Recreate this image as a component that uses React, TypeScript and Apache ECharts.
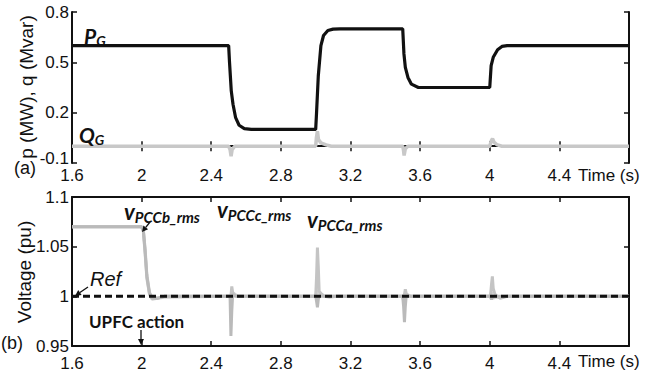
import React, { useEffect, useRef } from "react";
import * as echarts from "echarts";

// ---- Data ----
const xTicks = [1.6, 2, 2.4, 2.8, 3.2, 3.6, 4, 4.4, 4.8];

const pTime = [1.6, 2.5, 2.505, 2.515, 2.525, 2.54, 2.56, 2.59, 2.63, 3.0, 3.005, 3.015, 3.03, 3.045, 3.07, 3.1, 3.14, 3.5, 3.507, 3.515, 3.53, 3.55, 3.59, 4.0, 4.008, 4.02, 4.045, 4.07, 4.1, 4.8];
const pValue = [0.6, 0.6, 0.5, 0.33, 0.25, 0.17, 0.125, 0.105, 0.1, 0.1, 0.2, 0.42, 0.6, 0.66, 0.69, 0.698, 0.7, 0.7, 0.55, 0.47, 0.41, 0.37, 0.35, 0.35, 0.48, 0.53, 0.575, 0.595, 0.6, 0.6];

const qTime = [1.6, 2.5, 2.508, 2.514, 2.52, 2.535, 3.0, 3.004, 3.01, 3.016, 3.03, 3.06, 3.09, 3.5, 3.504, 3.508, 3.515, 3.53, 4.0, 4.008, 4.016, 4.024, 4.04, 4.07, 4.8];
const qValue = [0, 0, -0.02, -0.06, -0.02, 0, 0, 0.05, 0.09, 0.04, 0.02, 0.008, 0, 0, -0.02, -0.055, -0.015, 0, 0, 0.03, 0.045, 0.025, 0.01, 0, 0];

const vTime = [1.6, 2.0, 2.01, 2.02, 2.03, 2.045, 2.06, 2.09, 2.13, 2.5, 2.508, 2.513, 2.518, 2.523, 2.53, 2.545, 2.56, 3.0, 3.005, 3.01, 3.015, 3.02, 3.03, 3.05, 3.08, 3.12, 3.5, 3.505, 3.51, 3.515, 3.52, 3.53, 3.55, 4.0, 4.005, 4.01, 4.015, 4.02, 4.03, 4.06, 4.1, 4.8];
const vPCCa = [1.07, 1.07, 1.067, 1.048, 1.022, 1.004, 0.999, 0.998, 1.0, 1.0, 1.0, 1.0, 1.01, 1.004, 1.002, 1.0, 1.0, 1.0, 1.02, 1.049, 1.03, 1.005, 1.003, 1.0, 1.0, 1.0, 1.0, 1.0, 1.002, 1.007, 1.003, 1.001, 1.0, 1.0, 1.002, 1.012, 1.02, 1.008, 1.002, 0.998, 1.0, 1.0];
const vPCCb = [1.07, 1.07, 1.066, 1.045, 1.02, 1.003, 0.998, 0.998, 1.0, 1.0, 1.0, 0.96, 0.985, 1.002, 1.001, 1.0, 1.0, 1.0, 0.995, 0.989, 0.997, 1.0, 1.0, 1.0, 1.0, 1.0, 1.0, 0.99, 0.974, 0.99, 1.0, 1.0, 1.0, 1.0, 0.999, 0.997, 0.999, 1.0, 1.0, 1.0, 1.0, 1.0];
const vPCCc = [1.07, 1.07, 1.065, 1.043, 1.018, 1.002, 0.997, 0.998, 0.999, 1.0, 1.0, 0.995, 1.004, 1.002, 1.003, 1.001, 1.0, 1.0, 1.006, 1.004, 0.999, 1.003, 1.002, 1.0, 0.999, 1.0, 1.0, 0.996, 0.998, 1.003, 1.002, 1.001, 1.0, 1.0, 1.0, 1.004, 0.999, 0.998, 0.999, 0.999, 1.0, 1.0];

const refTime = [1.6, 4.8];
const refValue = [1, 1];

const zip = (t: number[], v: number[]) => t.map((x, i) => [x, v[i]]);

const FONT = "'Liberation Sans', Arial, sans-serif";
const LFONT = "Lato, 'Open Sans', sans-serif";

export default function App() {
  const ref = useRef<HTMLDivElement>(null);

  useEffect(() => {
    if (!ref.current) return;
    const chart = echarts.init(ref.current, undefined, { renderer: "svg" });

    const axisLine = { show: true, lineStyle: { color: "#111", width: 2 } };
    const tick = { show: true, inside: true, length: 5, lineStyle: { color: "#111", width: 1.5 } };
    const xFmt = (v: number) => (Math.abs(v - 4.8) < 1e-6 ? "" : String(parseFloat(v.toFixed(1))));

    const mkX = (gridIndex: number, margin: number) => [
      {
        type: "value", gridIndex, min: xTicks[0], max: xTicks[xTicks.length - 1], interval: 0.4,
        position: "bottom", axisLine, axisTick: tick, splitLine: { show: false },
        axisLabel: { show: true, color: "#111", fontSize: 17, fontFamily: FONT, margin, formatter: xFmt },
      },
      {
        type: "value", gridIndex, min: xTicks[0], max: xTicks[xTicks.length - 1], interval: 0.4,
        position: "top", axisLine, axisTick: tick, splitLine: { show: false }, axisLabel: { show: false },
      },
    ];
    const mkY = (gridIndex: number, min: number, max: number, interval: number, digits: number, liftMin: boolean) => [
      {
        type: "value", gridIndex, min, max, interval, position: "left",
        axisLine, axisTick: tick, splitLine: { show: false },
        axisLabel: {
          show: true, color: "#111", fontSize: 17, fontFamily: FONT, margin: 3,
          formatter: (v: number) => {
            const s = String(parseFloat(v.toFixed(digits)));
            return liftMin && Math.abs(v - min) < 1e-9 ? `{lo|${s}}` : s;
          },
          rich: { lo: { fontSize: 17, fontFamily: FONT, color: "#111", padding: [0, 0, 10, 0] } },
        },
      },
      {
        type: "value", gridIndex, min, max, interval, position: "right",
        axisLine, axisTick: tick, splitLine: { show: false }, axisLabel: { show: false },
      },
    ];

    const lineBase = { type: "line", showSymbol: false, symbol: "none", smooth: false };

    const subRich = (big: number, small: number) => ({
      m: { fontSize: big, fontWeight: "bold", fontStyle: "italic", fontFamily: LFONT, fill: "#111", lineHeight: big + 4 },
      s: { fontSize: small, fontWeight: "bold", fontStyle: "italic", fontFamily: LFONT, fill: "#111", lineHeight: small, verticalAlign: "bottom" },
    });

    const label = (x: number, y: number, main: string, sub: string, big = 21, small = 14) => ({
      type: "text", x, y,
      style: { text: `{m|${main}}{s|${sub}}`, rich: subRich(big, small), align: "left", verticalAlign: "middle" },
      z: 100,
    });

    const plain = (x: number, y: number, text: string, size: number, extra: any = {}) => ({
      type: "text", x, y,
      style: { text, fontSize: size, fontFamily: FONT, fill: "#111", align: "left", verticalAlign: "middle", ...extra },
      z: 100,
    });

    const arrow = (x1: number, y1: number, x2: number, y2: number) => {
      const ang = Math.atan2(y2 - y1, x2 - x1);
      const hl = 6, hw = 3;
      const bx = x2 - hl * Math.cos(ang), by = y2 - hl * Math.sin(ang);
      const px = -Math.sin(ang) * hw, py = Math.cos(ang) * hw;
      return [
        { type: "line", shape: { x1, y1, x2: bx, y2: by }, style: { stroke: "#111", lineWidth: 1.3 }, z: 100 },
        { type: "polygon", shape: { points: [[x2, y2], [bx + px, by + py], [bx - px, by - py]] }, style: { fill: "#111" }, z: 100 },
      ];
    };

    const option: any = {
      animation: false,
      backgroundColor: "#fff",
      grid: [
        { left: 72, top: 12, width: 557, height: 151, containLabel: false },
        { left: 72, top: 197, width: 557, height: 149, containLabel: false },
      ],
      xAxis: [...mkX(0, 4), ...mkX(1, 9)],
      yAxis: [...mkY(0, -0.1, 0.8, 0.3, 1, true), ...mkY(1, 0.95, 1.1, 0.05, 2, false)],
      series: [
        { ...lineBase, name: "QG", xAxisIndex: 0, yAxisIndex: 0, data: zip(qTime, qValue), lineStyle: { color: "#c8c8c8", width: 3.5 }, z: 2 },
        { ...lineBase, name: "PG", xAxisIndex: 0, yAxisIndex: 0, data: zip(pTime, pValue), lineStyle: { color: "#111", width: 3.2 }, z: 3 },
        { ...lineBase, name: "vPCCc_rms", xAxisIndex: 2, yAxisIndex: 2, data: zip(vTime, vPCCc), lineStyle: { color: "#d2d2d2", width: 3 }, z: 2 },
        { ...lineBase, name: "vPCCa_rms", xAxisIndex: 2, yAxisIndex: 2, data: zip(vTime, vPCCa), lineStyle: { color: "#c4c4c4", width: 3 }, z: 2 },
        { ...lineBase, name: "vPCCb_rms", xAxisIndex: 2, yAxisIndex: 2, data: zip(vTime, vPCCb), lineStyle: { color: "#bababa", width: 3 }, z: 2 },
        { ...lineBase, name: "Ref", xAxisIndex: 2, yAxisIndex: 2, data: zip(refTime, refValue), lineStyle: { color: "#111", width: 3, type: [7, 4] }, z: 4 },
      ],
      graphic: [
        label(84, 35, "P", "G"),
        label(79, 134, "Q", "G"),
        label(124, 211, "v", "PCCb_rms", 22, 15),
        label(217, 209, "v", "PCCc_rms", 22, 15),
        label(307, 219, "v", "PCCa_rms", 22, 15),
        plain(90, 279, "Ref", 20, { fontStyle: "italic" }),
        plain(89, 321, "UPFC action", 17, { fontWeight: "bold", fontFamily: LFONT }),
        plain(578, 175, "Time (s)", 17),
        plain(578, 361, "Time (s)", 17),
        plain(14, 168, "(a)", 18),
        plain(1, 343, "(b)", 18),
        {
          type: "text", x: 26, y: 87, rotation: Math.PI / 2,
          style: { text: "p (MW), q (Mvar)", fontSize: 19, fontFamily: FONT, fill: "#111", align: "center", verticalAlign: "middle" },
          z: 100,
        },
        {
          type: "text", x: 24, y: 272, rotation: Math.PI / 2,
          style: { text: "Voltage (pu)", fontSize: 19, fontFamily: FONT, fill: "#111", align: "center", verticalAlign: "middle" },
          z: 100,
        },
        ...arrow(150, 222, 142, 232),
        ...arrow(88, 287, 75, 296),
        ...arrow(141, 330, 141, 345),
      ],
    };

    chart.setOption(option);
    return () => chart.dispose();
  }, []);

  return (
    <div
      ref={ref}
      style={{ position: "fixed", left: 0, top: 0, width: 651, height: 372, background: "#fff" }}
    />
  );
}
